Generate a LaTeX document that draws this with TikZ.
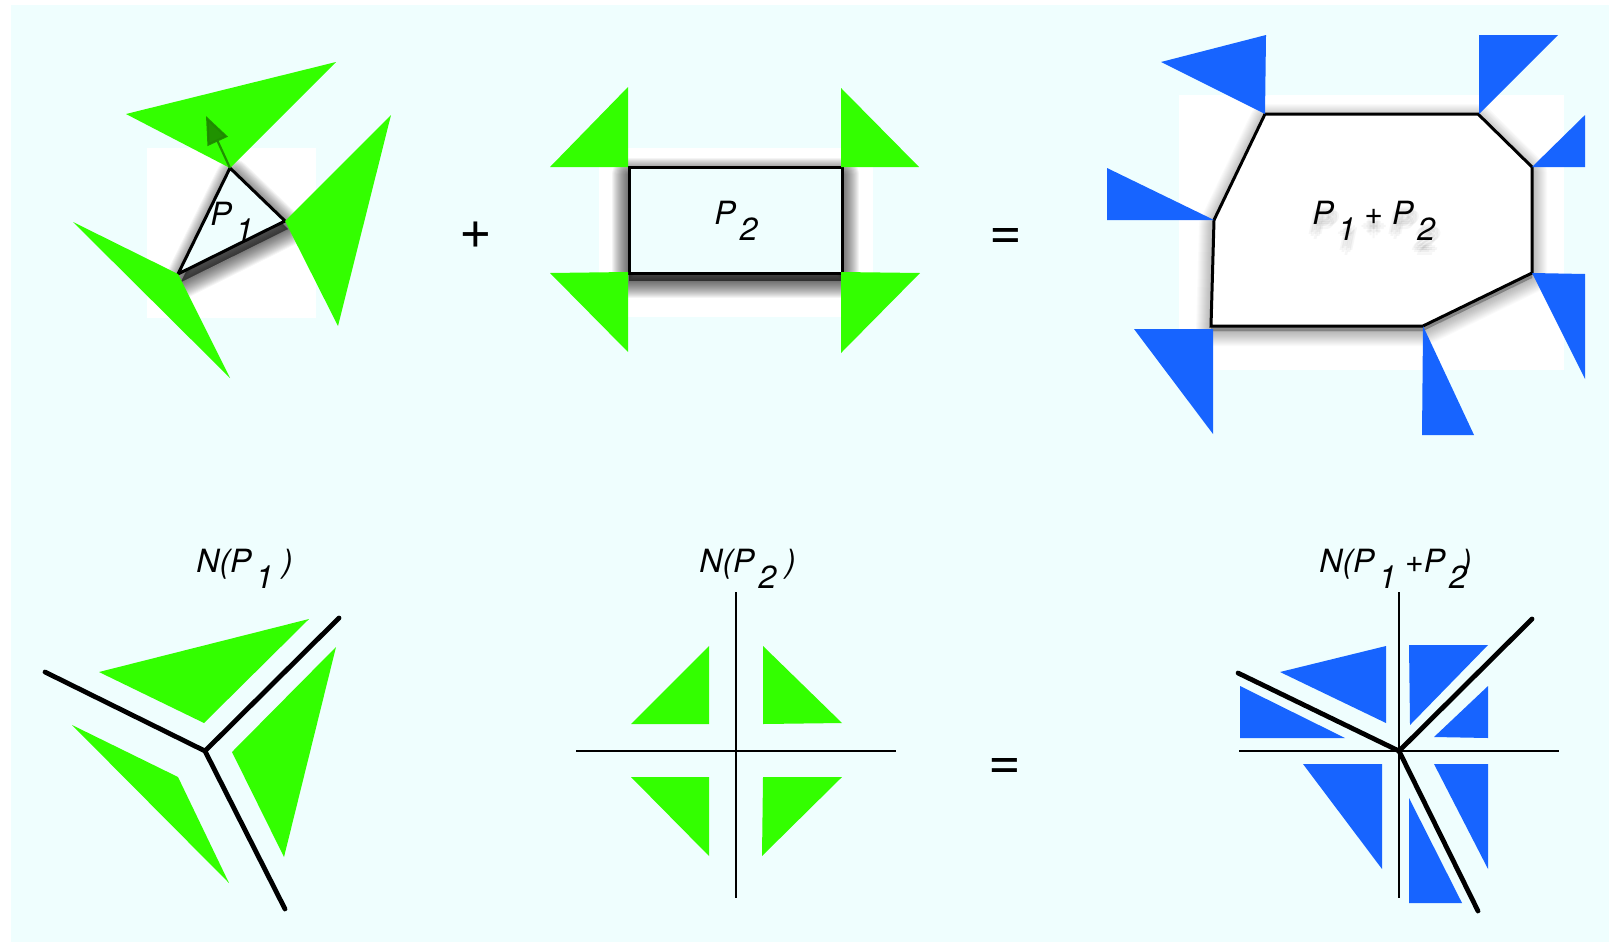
\documentclass[tikz,border=0pt]{standalone}
\usepackage{fontspec}
\setmainfont{TeX Gyre Heros}
\usetikzlibrary{arrows.meta}
\definecolor{bgcyan}{RGB}{239,254,254}
\definecolor{mygreen}{RGB}{51,255,0}
\definecolor{myblue}{RGB}{23,100,255}
\definecolor{arrowgreen}{RGB}{30,135,0}
\newcommand\lowsub[1]{\kern2pt\raisebox{-8pt}{#1}}
\newcommand\softshadow[4]{%
  \foreach \w in {2,4,...,#4}{%
    \path[fill=black,draw=black,opacity=#3,line width=\w*0.5pt,line join=round,shift={#2}] #1;}}
\tikzset{
  gtri/.style={fill=mygreen},
  btri/.style={fill=myblue},
  outline/.style={draw=black,line width=1.5pt,line join=miter},
  fan/.style={draw=black,line width=2.4pt,line cap=round},
  axis/.style={draw=black,line width=1.3pt},
  lbl/.style={font=\fontsize{16}{18}\selectfont\itshape,inner sep=0pt,anchor=base west},
  bigop/.style={font=\fontsize{28}{30}\selectfont,inner sep=0pt}
}
\begin{document}
\begin{tikzpicture}[x=0.5pt,y=-0.5pt]
\useasboundingbox (0,0) rectangle (1609,942);
\fill[white] (0,0) rectangle (1609,942);
\fill[bgcyan] (11,5) rectangle (1609,942);

% ---------- top left : P1 ----------
\fill[white] (147,148) rectangle (316,318);
\softshadow{(230,168) -- (285,221) -- (178,274) -- cycle}{(3,8)}{0.04}{34}
\coordinate (p1a) at (230,168);
\coordinate (p1b) at (285,221);
\coordinate (p1c) at (178,274);
\path[outline,fill=bgcyan] (p1a) -- (p1b) -- (p1c) -- cycle;
\node[lbl] (lp1) at (210,225) {P\lowsub{1}};
\fill[gtri] (126,114) -- (336,62) -- (p1a) -- cycle;
\fill[gtri] (p1b) -- (391,115) -- (338,326) -- cycle;
\fill[gtri] (73,222) -- (p1c) -- (230,378) -- cycle;
\coordinate (arrtip) at (206,116);
\draw[arrowgreen,opacity=0.9,line width=1.1pt,-{Triangle[length=14pt,width=11pt]}] (p1a) -- (arrtip);

\node[bigop] (plus) at (476,235) {+};

% ---------- top middle : P2 ----------
\fill[white] (599,148) rectangle (873,317);
\softshadow{(629,167) rectangle (842,273)}{(0,8)}{0.045}{34}
\path[outline,fill=bgcyan] (629,167) rectangle (842,273);
\node[lbl] (lp2) at (714,224) {P\lowsub{2}};
\fill[gtri] (550,167) -- (628,87) -- (628,167) -- cycle;
\fill[gtri] (841,88) -- (919,167) -- (841,167) -- cycle;
\fill[gtri] (550,273) -- (628,272) -- (628,352) -- cycle;
\fill[gtri] (841,272) -- (920,273) -- (841,353) -- cycle;

\node[bigop] (eq1) at (1006,239) {=};

% ---------- top right : P1+P2 ----------
\fill[white] (1179,95) rectangle (1564,370);
\softshadow{(1265,114) -- (1478,114) -- (1532,167) -- (1532,273) -- (1423,326) -- (1211,326) -- (1214,220) -- cycle}{(0,5)}{0.02}{30}
\path[outline,fill=white] (1265,114) -- (1478,114) -- (1532,167) -- (1532,273) -- (1423,326) -- (1211,326) -- (1214,220) -- cycle;
\foreach \dx/\dy in {0/10,3/12,-3/12,0/15,3/8,-3/8,5/10,-5/10,0/6}{
  \node[lbl,text=black,opacity=0.035] at (1312+\dx,224+\dy) {P\lowsub{1} + P\lowsub{2}};}
\node[lbl] (lsum) at (1312,224) {P\lowsub{1} + P\lowsub{2}};
\fill[btri] (1161,62) -- (1266,35) -- (1265,114) -- cycle;
\fill[btri] (1479,35) -- (1558,35) -- (1479,114) -- cycle;
\fill[btri] (1532,167) -- (1585,115) -- (1585,167) -- cycle;
\fill[btri] (1107,168) -- (1107,220) -- (1214,220) -- cycle;
\fill[btri] (1532,273) -- (1585,274) -- (1585,379) -- cycle;
\fill[btri] (1423,326) -- (1422,435) -- (1474,435) -- cycle;
\fill[btri] (1134,329) -- (1213,329) -- (1213,434) -- cycle;

% ---------- bottom left : N(P1) ----------
\node[lbl] (np1) at (196,572) {N(P\lowsub{1}\ )};
\fill[gtri] (99,672) -- (309,619) -- (204,723) -- cycle;
\fill[gtri] (232,752) -- (336,647) -- (284,857) -- cycle;
\fill[gtri] (72,725) -- (178,777) -- (229,883) -- cycle;
\coordinate (n1c) at (205,751);
\coordinate (n1a) at (45,672);
\coordinate (n1b) at (339,618);
\coordinate (n1d) at (285,909);
\draw[fan] (n1a) -- (n1c) -- (n1b);
\draw[fan] (n1c) -- (n1d);

% ---------- bottom middle : N(P2) ----------
\node[lbl] (np2) at (699,572) {N(P\lowsub{2}\ )};
\fill[gtri] (631,724) -- (709,646) -- (709,724) -- cycle;
\fill[gtri] (763,646) -- (842,723) -- (763,724) -- cycle;
\fill[gtri] (631,777) -- (709,777) -- (709,856) -- cycle;
\fill[gtri] (763,777) -- (842,777) -- (762,856) -- cycle;
\coordinate (n2t) at (736,592);
\coordinate (n2b) at (736,898);
\coordinate (n2l) at (576,751);
\coordinate (n2r) at (896,751);
\draw[axis] (n2t) -- (n2b);
\draw[axis] (n2l) -- (n2r);

\node[bigop] (eq2) at (1005,769) {=};

% ---------- bottom right : N(P1+P2) ----------
\node[lbl] (np12) at (1319,572) {N(P\lowsub{1} +P\lowsub{2}\kern-3pt)};
\fill[btri] (1280,672) -- (1386,646) -- (1386,723) -- cycle;
\fill[btri] (1240,686) -- (1240,738) -- (1345,738) -- cycle;
\fill[btri] (1409,645) -- (1488,645) -- (1410,725) -- cycle;
\fill[btri] (1488,686) -- (1488,738) -- (1434,737) -- cycle;
\fill[btri] (1303,764) -- (1382,764) -- (1382,869) -- cycle;
\fill[btri] (1434,764) -- (1488,764) -- (1488,869) -- cycle;
\fill[btri] (1409,798) -- (1409,903) -- (1462,903) -- cycle;
\coordinate (n3t) at (1399,592);
\coordinate (n3b) at (1399,898);
\coordinate (n3l) at (1239,751);
\coordinate (n3r) at (1559,751);
\draw[axis,line width=1.1pt] (n3t) -- (n3b);
\draw[axis,line width=1.1pt] (n3l) -- (n3r);
\coordinate (n3c) at (1399,751);
\coordinate (n3a) at (1238,673);
\coordinate (n3e) at (1532,619);
\coordinate (n3d) at (1478,911);
\draw[fan] (n3a) -- (n3c) -- (n3e);
\draw[fan] (n3c) -- (n3d);
\end{tikzpicture}
\end{document}
